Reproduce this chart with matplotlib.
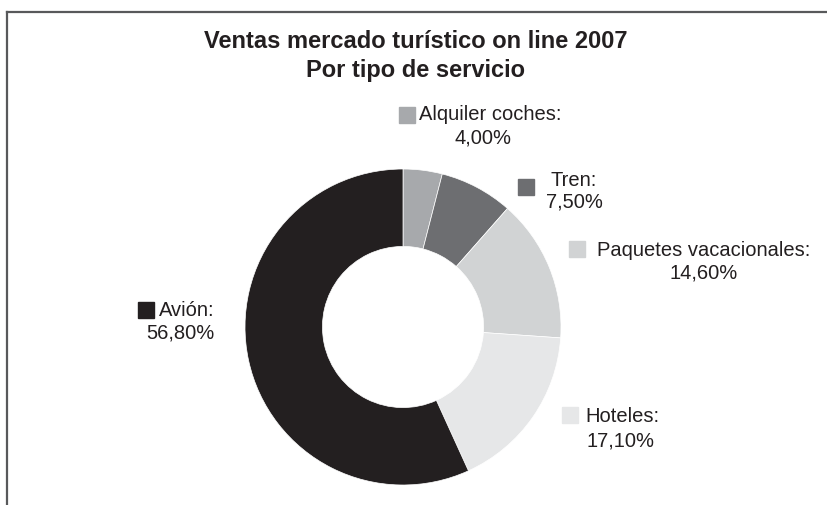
import matplotlib.pyplot as plt
from matplotlib.patches import Rectangle
from matplotlib.lines import Line2D

plt.rcParams['font.family'] = ['Liberation Sans', 'DejaVu Sans']

categorias = ["Alquiler coches", "Tren", "Paquetes vacacionales", "Hoteles", "Avión"]
porcentajes = [4.0, 7.5, 14.6, 17.1, 56.8]
colores = ["#a7a9ac", "#6d6e71", "#d1d3d4", "#e6e7e8", "#231f20"]

W, H = 827, 505
fig = plt.figure(figsize=(W / 100, H / 100), dpi=100)

def px(x, y):
    # pixel coords (from top-left) to figure fraction
    return x / W, 1 - y / H

# frame: top and left line
fig.add_artist(Line2D([7 / W, 1], [1 - 12 / H] * 2, color="#58595b", lw=1.6, transform=fig.transFigure))
fig.add_artist(Line2D([7 / W] * 2, [1 - 12 / H, 0], color="#58595b", lw=1.6, transform=fig.transFigure))

# donut
cx, cy, r = 403, 327, 158
ax = fig.add_axes([(cx - r) / W, 1 - (cy + r) / H, 2 * r / W, 2 * r / H])
ax.pie(porcentajes, colors=colores, startangle=90, counterclock=False,
       wedgeprops=dict(width=0.49, edgecolor="white", linewidth=0.5))
ax.set_xlim(-1, 1)
ax.set_ylim(-1, 1)
ax.set_aspect("equal")
ax.axis("off")

fig.text(*px(416, 42), "Ventas mercado turístico on line 2007", ha="center", va="center",
         fontsize=17, fontweight="bold", color="#231f20")
fig.text(*px(416, 70), "Por tipo de servicio", ha="center", va="center",
         fontsize=17, fontweight="bold", color="#231f20")

def etiqueta(i, box, nombre_xy, valor_xy, ha_nombre):
    bx, by = box
    fig.add_artist(Rectangle(px(bx, by + 16), 16 / W, 16 / H, color=colores[i], transform=fig.transFigure))
    fig.text(*px(*nombre_xy), categorias[i] + ":", ha=ha_nombre, va="center", fontsize=14.5, color="#231f20")
    fig.text(*px(*valor_xy), f"{porcentajes[i]:.2f}%".replace(".", ","), ha="center", va="center",
             fontsize=14.5, color="#231f20")

etiqueta(0, (399, 107), (419, 114), (483, 138), "left")
etiqueta(1, (518, 179), (574, 180), (574, 202), "center")
etiqueta(2, (569, 241), (597, 250), (704, 273), "left")
etiqueta(3, (562, 407), (585, 417), (621, 441), "left")
etiqueta(4, (138, 302), (159, 311), (180, 333), "left")

fig.savefig("out.png", dpi=100)
